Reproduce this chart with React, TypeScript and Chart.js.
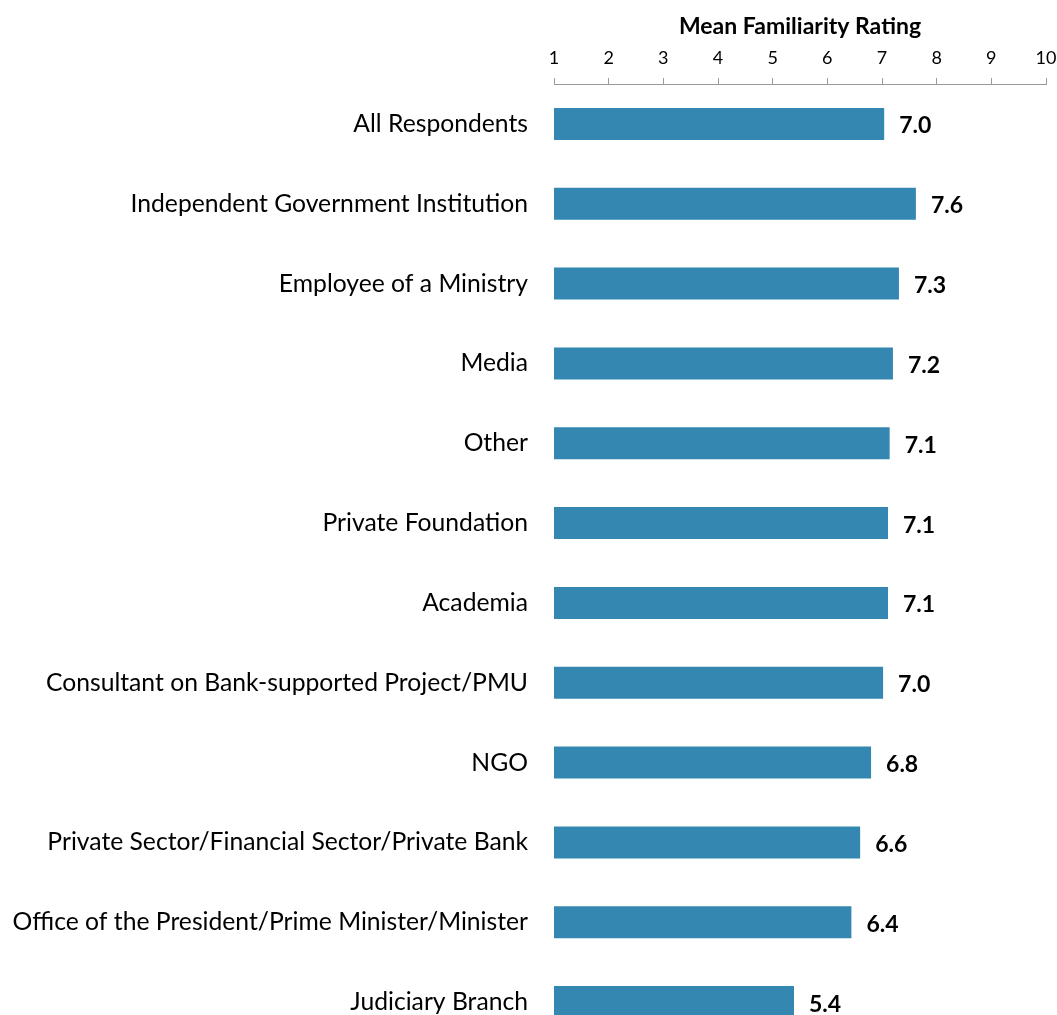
import React, { useEffect, useRef } from "react";
import { Chart, registerables } from "chart.js";

Chart.register(...registerables);

const categories: string[] = [
  "All Respondents",
  "Independent Government Institution",
  "Employee of a Ministry",
  "Media",
  "Other",
  "Private Foundation",
  "Academia",
  "Consultant on Bank-supported Project/PMU",
  "NGO",
  "Private Sector/Financial Sector/Private Bank",
  "Office of the President/Prime Minister/Minister",
  "Judiciary Branch",
];

const meanRatings: number[] = [7.04, 7.62, 7.31, 7.2, 7.14, 7.11, 7.11, 7.02, 6.8, 6.6, 6.44, 5.39];

const axisTicks: number[] = [1, 2, 3, 4, 5, 6, 7, 8, 9, 10];

const axisTitle = "Mean Familiarity Rating";

const FONT = "Lato, 'Open Sans', sans-serif";

const valueLabelPlugin = {
  id: "valueLabels",
  afterDatasetsDraw(chart: any) {
    const ctx = chart.ctx;
    const meta = chart.getDatasetMeta(0);
    ctx.save();
    ctx.font = `bold 23px ${FONT}`;
    ctx.fillStyle = "#000000";
    ctx.textAlign = "left";
    ctx.textBaseline = "middle";
    meta.data.forEach((bar: any, i: number) => {
      const v = chart.data.datasets[0].data[i] as number;
      ctx.fillText(v.toFixed(1), bar.x + 15, bar.y + 2);
    });
    ctx.restore();
  },
};

export default function App() {
  const canvasRef = useRef<HTMLCanvasElement | null>(null);

  useEffect(() => {
    if (!canvasRef.current) return;
    const chart = new Chart(canvasRef.current, {
      type: "bar",
      data: {
        labels: categories,
        datasets: [
          {
            data: meanRatings,
            backgroundColor: "rgb(52,135,176)",
            borderWidth: 0,
            barPercentage: 0.4,
            categoryPercentage: 1,
          },
        ],
      },
      options: {
        indexAxis: "y",
        animation: false,
        responsive: false,
        maintainAspectRatio: false,
        layout: { padding: 0 },
        plugins: {
          legend: { display: false },
          tooltip: { enabled: false },
        },
        scales: {
          x: {
            position: "top",
            min: 1,
            max: 10,
            afterBuildTicks(scale: any) {
              scale.ticks = axisTicks.map((v) => ({ value: v }));
            },
            afterFit(scale: any) {
              scale.height = 84;
              scale.paddingLeft = 0;
              scale.paddingRight = 11;
            },
            title: {
              display: true,
              text: axisTitle,
              color: "#000000",
              font: { family: FONT, size: 23, weight: "bold" },
              padding: { top: 13, bottom: 4 },
            },
            ticks: {
              color: "#000000",
              font: { family: FONT, size: 18 },
              padding: 9,
              maxRotation: 0,
              autoSkip: false,
            },
            grid: {
              drawOnChartArea: false,
              drawTicks: true,
              tickLength: 6,
              color: "#9a9a9a",
            },
            border: { display: true, color: "#9a9a9a", width: 1 },
          },
          y: {
            afterFit(scale: any) {
              scale.width = 554;
              scale.paddingTop = 0;
              scale.paddingBottom = 0;
            },
            ticks: {
              color: "#000000",
              font: { family: FONT, size: 24.7 },
              padding: 26,
              autoSkip: false,
            },
            grid: { display: false, drawTicks: false },
            border: { display: false },
          },
        },
      },
      plugins: [valueLabelPlugin],
    });
    return () => chart.destroy();
  }, []);

  return (
    <div
      style={{
        position: "fixed",
        left: 0,
        top: 0,
        width: 1057,
        height: 1015,
        overflow: "hidden",
        background: "#ffffff",
      }}
    >
      <canvas
        ref={canvasRef}
        width={1057}
        height={1042}
        style={{ display: "block", width: 1057, height: 1042 }}
      />
    </div>
  );
}
